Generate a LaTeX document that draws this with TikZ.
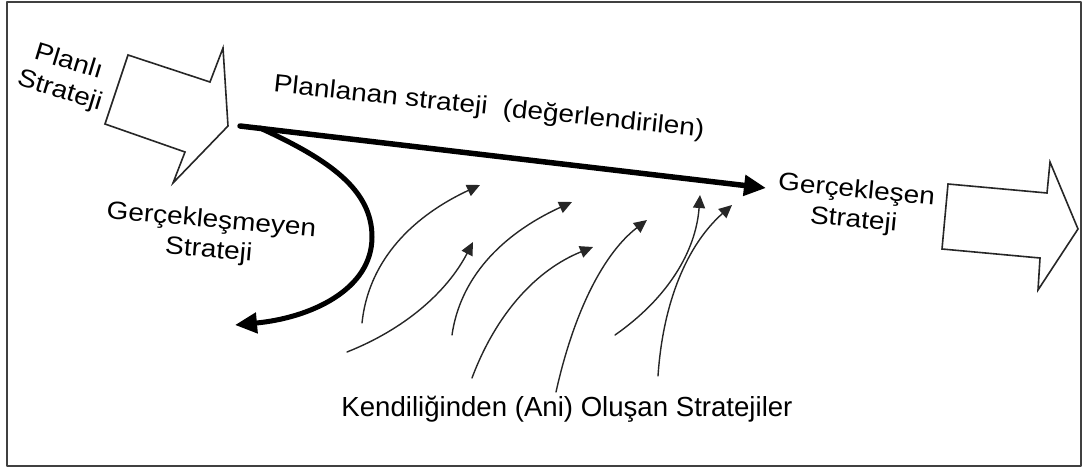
\documentclass[tikz,border=0pt]{standalone}
\usepackage{fontspec}
\setmainfont{Liberation Sans}
\newfontfamily\widesans{Liberation Sans}[FakeStretch=1.12]
\usetikzlibrary{arrows.meta}
\tikzset{
  blockarrow/.style={draw=black!85, fill=white, line width=1.6pt, line join=miter},
  bigarrow/.style={line width=5.5pt, -{Triangle[length=22pt,width=20pt]}},
  smallarrow/.style={line width=1.4pt, black!85, -{Triangle[length=13pt,width=12pt]}},
  lbl/.style={font=\widesans\fontsize{25}{30}\selectfont, align=center, inner sep=0pt},
}
\begin{document}
\begin{tikzpicture}[x=1pt, y=-1pt, line join=round, line cap=round]
\useasboundingbox (0,0) rectangle (1084,469);
\draw[black!75, line width=2pt, line cap=butt] (7,2) rectangle (1081,466);
% block arrows
\draw[blockarrow] (128,55)--(210,82)--(223,48)--(228,126)--(173,183)--(185,152)--(105,124)--cycle;
\draw[blockarrow] (948,184)--(1047,193)--(1050,162)--(1078,229)--(1038,290)--(1040,258)--(942,249)--cycle;
% labels
\node[lbl, rotate=-17] (planli) at (64,77) {Planlı\\Strateji};
\node[lbl, rotate=-6] (planlanan) at (489,108) {Planlanan strateji\ \ (değerlendirilen)};
\node[lbl, rotate=-5] (gercekmeyen) at (210,236) {Gerçekleşmeyen\\Strateji};
\node[lbl, rotate=-5.5] (gercek) at (855,206) {Gerçekleşen\\Strateji};
\node[font=\fontsize{27.6}{32}\selectfont, inner sep=0pt] (kendi) at (567,409) {Kendiliğinden (Ani) Oluşan Stratejiler};
% main paths
\coordinate (plan) at (240,126);
\coordinate (real) at (766,188);
\coordinate (lost) at (235,325);
\draw[bigarrow] (plan) -- (real);
\draw[bigarrow, line width=5pt] ([xshift=20pt,yshift=-2pt]plan) .. controls (330,160) and (372,190) .. (372,237)
  .. controls (372,290) and (310,318) .. (lost);
% emergent strategies
\foreach \i/\sx/\sy/\ax/\ay/\bx/\by/\ex/\ey in {1/362/323/368/265/407/219/480/185,
  2/347/352/405/329/447/292/473/242, 3/452/335/460/279/500/235/572/202,
  4/472/378/496/314/536/270/593/247, 5/556/392/574/311/604/253/647/220,
  6/615/335/668/298/696/251/700/195, 7/658/376/663/302/687/245/732/205}{
  \coordinate (em\i a) at (\sx,\sy);
  \coordinate (em\i b) at (\ex,\ey);
  \draw[smallarrow] (em\i a) .. controls (\ax,\ay) and (\bx,\by) .. (em\i b);
}
\end{tikzpicture}
\end{document}
